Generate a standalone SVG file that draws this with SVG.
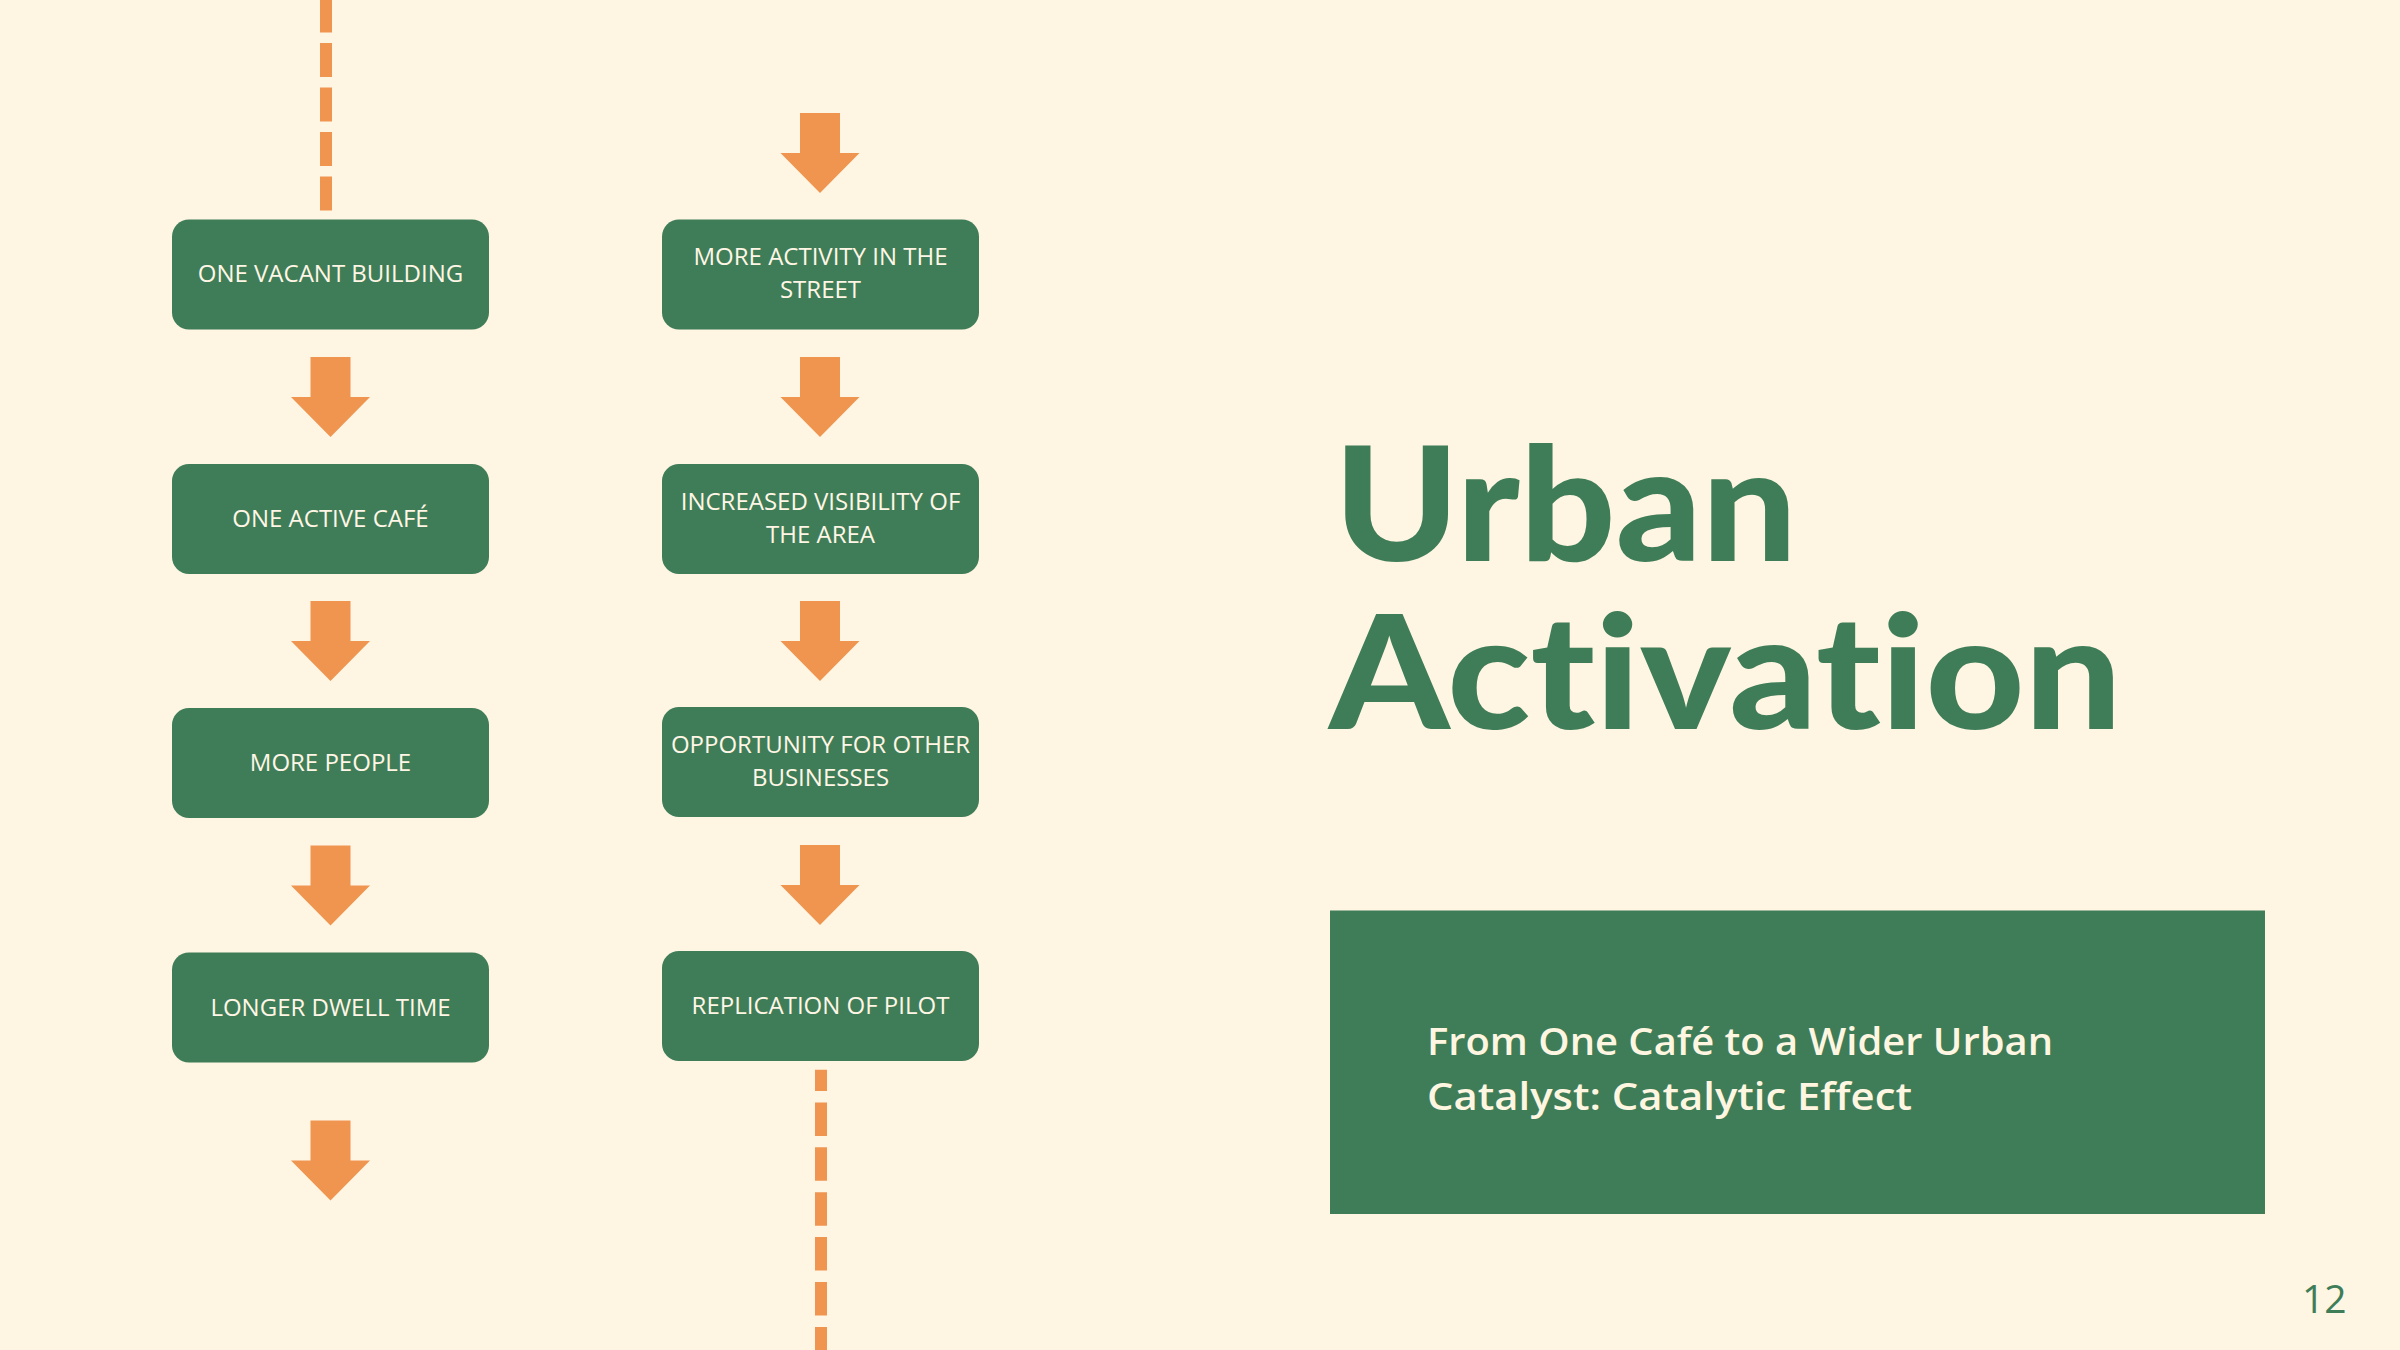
<svg xmlns="http://www.w3.org/2000/svg" xmlns:xlink="http://www.w3.org/1999/xlink" width="2400" height="1350" viewBox="0 0 2400 1350">
<defs>
<style>
.box{fill:#3F7D58;}
.lbl{font-family:"Open Sans","Noto Sans","Liberation Sans",sans-serif;font-size:24px;fill:#FFF6E6;text-anchor:middle;}
.arr{fill:#EF9550;}
.dash{stroke:#EF9550;stroke-width:12;fill:none;}
.title{font-family:"Lato","Inter","Liberation Sans",sans-serif;font-weight:900;font-size:158px;fill:#3F7D58;font-variant-ligatures:none;font-feature-settings:"liga" 0,"clig" 0;}
.sub{font-family:"Open Sans","Noto Sans","Liberation Sans",sans-serif;font-weight:600;font-size:37px;fill:#FFF6E1;}
.pg{font-family:"Open Sans","Noto Sans","Liberation Sans",sans-serif;font-weight:400;font-size:39px;fill:#3F7D58;}
</style>
<path id="arrow" d="M-20,0 H20 V40 H39.5 L0,80 L-39.5,40 H-20 Z"/>
</defs>
<rect width="2400" height="1350" fill="#FEF5E3"/>

<g id="connectors">
<line class="dash" x1="326" y1="210.5" x2="326" y2="-5" stroke-dasharray="34 10.5"/>
<line class="dash" x1="821" y1="1069.7" x2="821" y2="1360" stroke-dasharray="33.5 11.4" stroke-dashoffset="12.2"/>
<use href="#arrow" class="arr" x="330.5" y="357"/>
<use href="#arrow" class="arr" x="330.5" y="601"/>
<use href="#arrow" class="arr" x="330.5" y="845.5"/>
<use href="#arrow" class="arr" x="330.5" y="1120.5"/>
<use href="#arrow" class="arr" x="820" y="113"/>
<use href="#arrow" class="arr" x="820" y="357"/>
<use href="#arrow" class="arr" x="820" y="601"/>
<use href="#arrow" class="arr" x="820" y="845"/>
</g>

<g id="n1"><rect class="box" x="172" y="219.5" width="317" height="110" rx="17"/><text class="lbl" x="330.5" y="282">ONE VACANT BUILDING</text></g>
<g id="n2"><rect class="box" x="172" y="464" width="317" height="110" rx="17"/><text class="lbl" x="330.5" y="527">ONE ACTIVE CAFÉ</text></g>
<g id="n3"><rect class="box" x="172" y="708" width="317" height="110" rx="17"/><text class="lbl" x="330.5" y="771">MORE PEOPLE</text></g>
<g id="n4"><rect class="box" x="172" y="952.5" width="317" height="110" rx="17"/><text class="lbl" x="330.5" y="1015.5">LONGER DWELL TIME</text></g>

<g id="n5"><rect class="box" x="662" y="219.5" width="317" height="110" rx="17"/><text class="lbl" x="820.5" y="265">MORE ACTIVITY IN THE</text><text class="lbl" x="820.5" y="298">STREET</text></g>
<g id="n6"><rect class="box" x="662" y="464" width="317" height="110" rx="17"/><text class="lbl" x="820.5" y="509.5">INCREASED VISIBILITY OF</text><text class="lbl" x="820.5" y="542.5">THE AREA</text></g>
<g id="n7"><rect class="box" x="662" y="707" width="317" height="110" rx="17"/><text class="lbl" x="820.5" y="752.5">OPPORTUNITY FOR OTHER</text><text class="lbl" x="820.5" y="785.5">BUSINESSES</text></g>
<g id="n8"><rect class="box" x="662" y="951" width="317" height="110" rx="17"/><text class="lbl" x="820.5" y="1014">REPLICATION OF PILOT</text></g>

<g id="title">
<text class="title" x="1334" y="561" textLength="463" lengthAdjust="spacingAndGlyphs">Urban</text>
<text class="title" x="1329" y="728.6" textLength="793" lengthAdjust="spacingAndGlyphs">Activation</text>
</g>

<g id="subtitle">
<rect x="1330" y="910.5" width="935" height="303.5" fill="#3F7D58"/>
<text class="sub" x="1427" y="1055" textLength="626" lengthAdjust="spacingAndGlyphs">From One Café to a Wider Urban</text>
<text class="sub" x="1427" y="1110" textLength="485" lengthAdjust="spacingAndGlyphs">Catalyst: Catalytic Effect</text>
</g>

<text class="pg" x="2302" y="1312.5">12</text>
</svg>
